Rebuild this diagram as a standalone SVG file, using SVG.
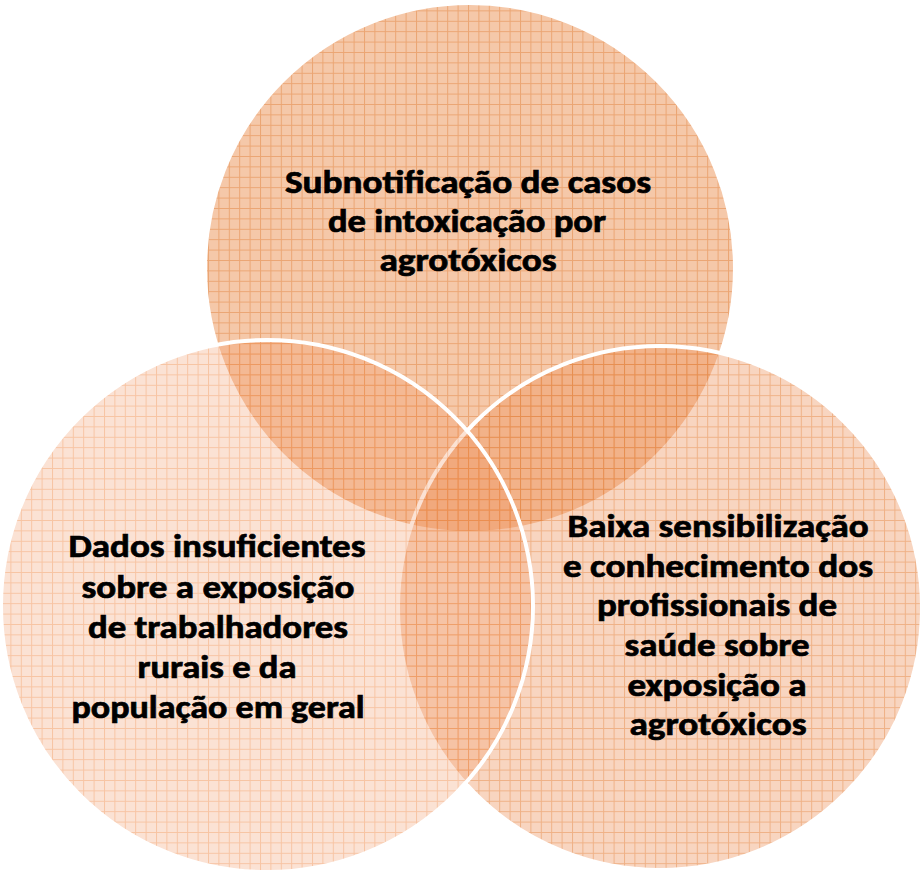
<svg xmlns="http://www.w3.org/2000/svg" width="920" height="872" viewBox="0 0 920 872">
<style>
.lbl{font-family:Carlito,"Open Sans","Liberation Sans",sans-serif;font-weight:700;font-size:32px;fill:#000;stroke:#000;stroke-width:0.7;text-anchor:middle}
.circ{stroke:#fff;stroke-width:4}
</style>
<defs>
<pattern id="gTop" width="10.4" height="10.4" patternUnits="userSpaceOnUse">
<rect width="10.4" height="10.4" fill="#EA8A48" fill-opacity="0.47"/>
<path d="M0 0.5H10.4M0.5 0V10.4" stroke="#E07A30" stroke-opacity="0.45" stroke-width="1" fill="none"/>
</pattern>
<pattern id="gRight" width="10.4" height="10.4" patternUnits="userSpaceOnUse">
<rect width="10.4" height="10.4" fill="#EC8C50" fill-opacity="0.36"/>
<path d="M0 0.5H10.4M0.5 0V10.4" stroke="#E07A30" stroke-opacity="0.4" stroke-width="1" fill="none"/>
</pattern>
<pattern id="gLeft" width="10.4" height="10.4" patternUnits="userSpaceOnUse">
<rect width="10.4" height="10.4" fill="#F0905A" fill-opacity="0.26"/>
<path d="M0 0.5H10.4M0.5 0V10.4" stroke="#F08C48" stroke-opacity="0.35" stroke-width="1" fill="none"/>
</pattern>
</defs>
<g id="node-top">
<circle class="circ" cx="470" cy="268" r="265" fill="url(#gTop)"/>
</g>
<g id="node-right">
<circle class="circ" cx="660" cy="608" r="262" fill="url(#gRight)"/>
</g>
<g id="node-left">
<circle class="circ" cx="267" cy="606" r="266" fill="url(#gLeft)"/>
</g>
<g id="connectors"></g>
<g id="label-top">
<text class="lbl" x="468" y="193" textLength="366" lengthAdjust="spacingAndGlyphs">Subnotificação de casos</text>
<text class="lbl" x="467" y="232" textLength="278" lengthAdjust="spacingAndGlyphs">de intoxicação por</text>
<text class="lbl" x="468" y="271" textLength="177" lengthAdjust="spacingAndGlyphs">agrotóxicos</text>
</g>
<g id="label-right">
<text class="lbl" x="718" y="537" textLength="301" lengthAdjust="spacingAndGlyphs">Baixa sensibilização</text>
<text class="lbl" x="718" y="577" textLength="310" lengthAdjust="spacingAndGlyphs">e conhecimento dos</text>
<text class="lbl" x="717" y="616" textLength="240" lengthAdjust="spacingAndGlyphs">profissionais de</text>
<text class="lbl" x="717" y="656" textLength="185" lengthAdjust="spacingAndGlyphs">saúde sobre</text>
<text class="lbl" x="717" y="696" textLength="179" lengthAdjust="spacingAndGlyphs">exposição a</text>
<text class="lbl" x="718" y="735" textLength="177" lengthAdjust="spacingAndGlyphs">agrotóxicos</text>
</g>
<g id="label-left">
<text class="lbl" x="217" y="557" textLength="297" lengthAdjust="spacingAndGlyphs">Dados insuficientes</text>
<text class="lbl" x="218" y="598" textLength="273" lengthAdjust="spacingAndGlyphs">sobre a exposição</text>
<text class="lbl" x="218" y="638" textLength="260" lengthAdjust="spacingAndGlyphs">de trabalhadores</text>
<text class="lbl" x="217" y="678" textLength="159" lengthAdjust="spacingAndGlyphs">rurais e da</text>
<text class="lbl" x="218" y="718" textLength="293" lengthAdjust="spacingAndGlyphs">população em geral</text>
</g>
</svg>
